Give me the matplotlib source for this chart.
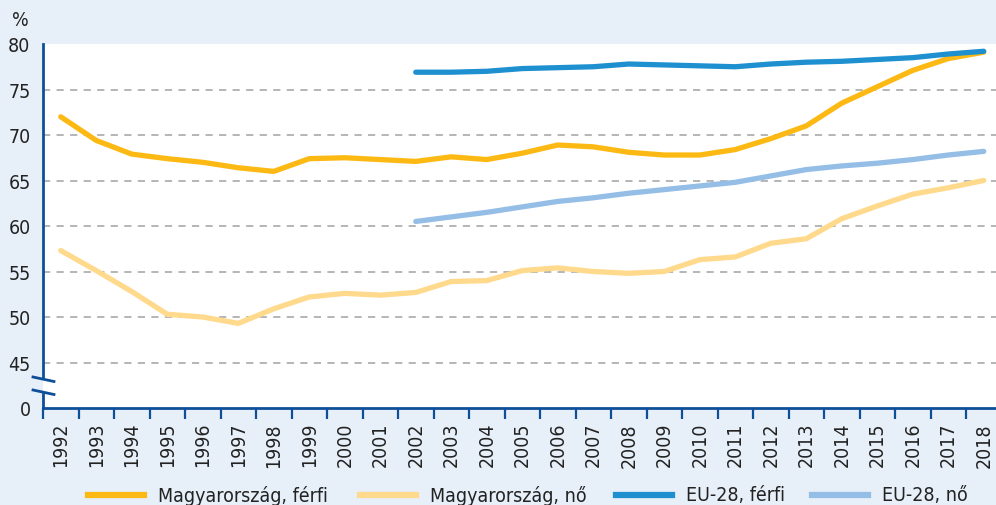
import numpy as np
import matplotlib
matplotlib.use('Agg')
import matplotlib.pyplot as plt
from matplotlib.lines import Line2D

plt.rcParams['font.family'] = ['DejaVu Sans']
plt.rcParams['font.stretch'] = 'condensed'

years = list(range(1992, 2019))
hu_men = [72.0, 69.4, 67.9, 67.4, 67.0, 66.4, 66.0, 67.4, 67.5, 67.3,
          67.1, 67.6, 67.3, 68.0, 68.9, 68.7, 68.1, 67.8, 67.8, 68.4,
          69.6, 71.0, 73.5, 75.3, 77.1, 78.4, 79.1]
hu_women = [57.3, 55.1, 52.8, 50.3, 50.0, 49.3, 50.9, 52.2, 52.6, 52.4,
            52.7, 53.9, 54.0, 55.1, 55.4, 55.0, 54.8, 55.0, 56.3, 56.6,
            58.1, 58.6, 60.8, 62.2, 63.5, 64.2, 65.0]
eu_years = list(range(2002, 2019))
eu_men = [76.9, 76.9, 77.0, 77.3, 77.4, 77.5, 77.8, 77.7, 77.6, 77.5,
          77.8, 78.0, 78.1, 78.3, 78.5, 78.9, 79.2]
eu_women = [60.5, 61.0, 61.5, 62.1, 62.7, 63.1, 63.6, 64.0, 64.4, 64.8,
            65.5, 66.2, 66.6, 66.9, 67.3, 67.8, 68.2]
labels = ['Magyarország, férfi', 'Magyarország, nő', 'EU-28, férfi', 'EU-28, nő']
y_ticks = [40, 45, 50, 55, 60, 65, 70, 75, 80]
y_ticklabels = ['0', '45', '50', '55', '60', '65', '70', '75', '80']

bg = '#e7eff9'
navy = '#0d4f98'
colors = ['#fdb913', '#ffd98c', '#1e90cf', '#95bee6']

W, H = 996, 506
fig = plt.figure(figsize=(W / 100, H / 100), dpi=100, facecolor=bg)
ax = fig.add_axes([43 / W, 1 - 409 / H, 1 - 43 / W, (409 - 45) / H])
ax.set_facecolor('white')

x = np.arange(len(years))
xe = np.arange(len(eu_years)) + years.index(eu_years[0])
series = [(x, hu_men), (x, hu_women), (xe, eu_men), (xe, eu_women)]
for (xs, ys), c in zip(series, colors):
    ax.plot(xs, ys, color=c, lw=3.8, solid_capstyle='round',
            solid_joinstyle='round', zorder=3)

ax.set_xlim(-0.5, (W - 43) / ((966 - 43) / 26) - 0.5)
ax.set_ylim(40, 80)

# gridlines
for v in y_ticks[1:-1]:
    ax.axhline(v, color='#b0b0b0', lw=1.3, ls=(0, (4, 3.5)), zorder=1)

# x: ticks on bin edges, labels in bin centres
ax.set_xticks(np.arange(-0.5, len(years) - 1, 1.0))
ax.set_xticklabels([])
ax.set_xticks(x, minor=True)
ax.set_xticklabels([str(y) for y in years], minor=True, rotation=90,
                   fontsize=14, color='#222222')
ax.tick_params(axis='x', which='major', length=8, width=1.6, color=navy,
               direction='out')
ax.tick_params(axis='x', which='minor', length=0, pad=10)

ax.set_yticks(y_ticks)
ax.set_yticklabels(y_ticklabels, fontsize=14, color='#222222')
ax.tick_params(axis='y', length=0, pad=9)

for s in ['top', 'right']:
    ax.spines[s].set_visible(False)
ax.spines['bottom'].set_color(navy)
ax.spines['bottom'].set_linewidth(2)
ax.spines['left'].set_color(navy)
ax.spines['left'].set_linewidth(2)
ax.spines['left'].set_bounds(80 - (378 - 45) / 9.094, 80)

# lower piece of the broken y axis and the break marks
tf = fig.transFigure
fig.add_artist(Line2D([43 / W, 43 / W], [1 - 395 / H, 1 - 409 / H],
                      color=navy, lw=2, transform=tf))
for y0 in (378, 391):
    fig.add_artist(Line2D([33 / W, 54 / W], [1 - y0 / H, 1 - (y0 + 4.5) / H],
                          color=navy, lw=2, transform=tf))

fig.text(20 / W, 1 - 20 / H, '%', fontsize=14, color='#222222',
         ha='center', va='center')

# legend row: key line followed by its label
key_x = [88, 360, 616, 812]
ly = 1 - 496 / H
for kx, c, lab in zip(key_x, colors, labels):
    fig.add_artist(Line2D([kx / W, (kx + 56) / W], [ly, ly], color=c, lw=4.5,
                          transform=tf))
    fig.text((kx + 70) / W, ly, lab, fontsize=14, color='#222222',
             ha='left', va='center')

fig.savefig('out.png', dpi=100, facecolor=bg)
